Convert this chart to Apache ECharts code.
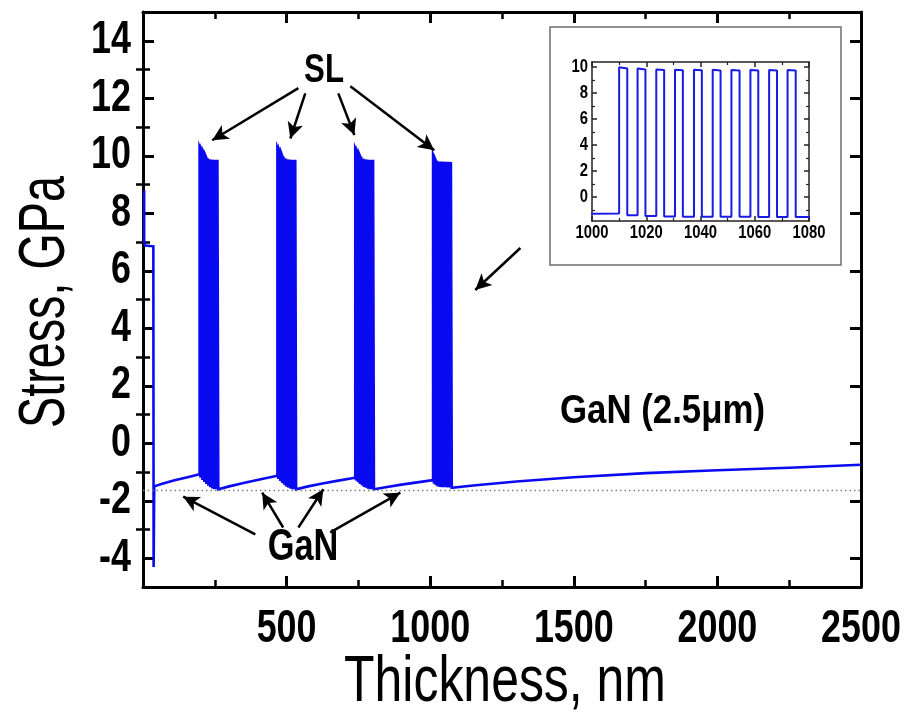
<!DOCTYPE html>
<html>
<head>
<meta charset="utf-8">
<title>Stress vs thickness</title>
<script src="https://cdn.jsdelivr.net/npm/echarts@6/dist/echarts.min.js"></script>
<style>
  html, body { margin: 0; padding: 0; background: #ffffff; }
  #chart { width: 906px; height: 715px; }
</style>
</head>
<body>
<div id="chart"></div>
<script>
// Axis ticks
const thicknessTicks = [500, 1000, 1500, 2000, 2500];
const stressTicks = [-4, -2, 0, 2, 4, 6, 8, 10, 12, 14];
const stressMinorTicks = [-3, -1, 1, 3, 5, 7, 9, 11, 13];
const insetThicknessTicks = [1000, 1020, 1040, 1060, 1080];
const insetStressTicks = [0, 2, 4, 6, 8, 10];
const insetStressMinorTicks = [-1, 1, 3, 5, 7, 9];

// Relaxed GaN reference level (GPa)
const relaxedLevel = -1.63;

// Nucleation / buffer region: [thickness nm, stress GPa]
const bufferStress = [[4, 8.8], [4, 7.05], [7, 6.88], [36, 6.85], [37, -4.3], [39, -1.5]];

// GaN layers: [thickness nm, stress GPa]
const ganLayer1 = [[39, -1.5], [70, -1.4], [110, -1.29], [155, -1.18], [197, -1.08]];
const ganLayer2 = [[266, -1.6], [300, -1.5], [350, -1.38], [410, -1.25], [468, -1.13]];
const ganLayer3 = [[537, -1.6], [575, -1.5], [625, -1.4], [680, -1.3], [739, -1.2]];
const ganLayer4 = [[808, -1.6], [850, -1.52], [900, -1.44], [955, -1.36], [1010, -1.28]];
const ganTop = [[1079, -1.55], [1150, -1.47], [1300, -1.33], [1500, -1.18], [1750, -1.04],
                [2000, -0.94], [2250, -0.85], [2500, -0.75]];

// Superlattice blocks: start (nm), barrier rise / fall inside a block (nm), block thickness (nm)
const slStart = [197, 468, 739, 1010];
const slRise = [0, 6.8, 13.7, 20.6, 27.6, 34.5, 41.4, 48.4, 55.3, 62.1];
const slFall = [3.0, 9.7, 16.6, 23.5, 30.5, 37.4, 44.4, 51.3, 58.2, 65.1];
const slThickness = 69;

// Barrier stress at start / end of each barrier (GPa)
const slBarrier1 = [[10.3, 10.22], [10.2, 10.12], [10.1, 10.02], [10.0, 9.93], [9.92, 9.88],
                    [9.88, 9.86], [9.87, 9.85], [9.86, 9.85], [9.86, 9.85], [9.86, 9.85]];
const slBarrier2 = [[10.28, 10.2], [10.18, 10.1], [10.08, 10.0], [9.98, 9.92], [9.91, 9.87],
                    [9.88, 9.86], [9.87, 9.85], [9.86, 9.85], [9.86, 9.85], [9.86, 9.85]];
const slBarrier3 = [[10.25, 10.17], [10.15, 10.08], [10.06, 9.99], [9.97, 9.91], [9.9, 9.87],
                    [9.88, 9.86], [9.87, 9.85], [9.86, 9.85], [9.86, 9.85], [9.86, 9.85]];
const slBarrier4 = [[10.0, 9.9], [9.9, 9.83], [9.83, 9.78], [9.8, 9.76], [9.8, 9.76],
                    [9.8, 9.75], [9.79, 9.75], [9.79, 9.75], [9.79, 9.75], [9.78, 9.74]];

// Well stress after each barrier (GPa)
const slWell1 = [-1.2, -1.28, -1.35, -1.42, -1.48, -1.53, -1.57, -1.6, -1.6, -1.6];
const slWell2 = [-1.24, -1.31, -1.38, -1.44, -1.5, -1.54, -1.57, -1.6, -1.6, -1.6];
const slWell3 = [-1.3, -1.36, -1.42, -1.47, -1.52, -1.55, -1.58, -1.6, -1.6, -1.6];
const slWell4 = [-1.41, -1.46, -1.5, -1.52, -1.53, -1.53, -1.53, -1.54, -1.54, -1.55];

// Builds the step profile of one superlattice block
function slBlock(start, barrier, well, levelBefore) {
  const pts = [];
  let low = levelBefore;
  for (let k = 0; k < slRise.length; k++) {
    const xr = start + slRise[k];
    const xf = start + slFall[k];
    pts.push([xr, low], [xr, barrier[k][0]], [xf, barrier[k][1]], [xf, well[k]]);
    low = well[k];
  }
  pts.push([start + slThickness, low]);
  return pts;
}

const lastOf = arr => arr[arr.length - 1][1];

const profile = [].concat(
  bufferStress,
  ganLayer1, slBlock(slStart[0], slBarrier1, slWell1, lastOf(ganLayer1)),
  ganLayer2, slBlock(slStart[1], slBarrier2, slWell2, lastOf(ganLayer2)),
  ganLayer3, slBlock(slStart[2], slBarrier3, slWell3, lastOf(ganLayer3)),
  ganLayer4, slBlock(slStart[3], slBarrier4, slWell4, lastOf(ganLayer4)),
  ganTop
);

// Annotation arrows in data coordinates: [tail, head]
const arrows = [
  [[541, 12.35], [241, 10.54]],
  [[565, 12.17], [513, 10.6]],
  [[680, 12.17], [736, 10.72]],
  [[722, 12.42], [1014, 10.19]],
  [[391, -3.17], [140, -1.86]],
  [[488, -2.93], [415, -1.72]],
  [[541, -2.93], [628, -1.6]],
  [[652, -3.1], [896, -1.72]],
  [[1314, 6.79], [1157, 5.33]]
];

const FONT = '"Liberation Sans", Arial, Helvetica, sans-serif';
const BLUE = '#0a0af2';
const INK = '#000000';
const NARROW = 0.78;   // horizontal squeeze for the condensed lettering

function frameAxis(extra) {
  return Object.assign({
    type: 'value',
    splitLine: { show: false },
    axisLine: { show: true, onZero: false, lineStyle: { color: INK, width: 3 } },
    axisTick: { show: true, inside: true, length: 11, lineStyle: { color: INK, width: 3 } },
    axisLabel: { show: false }
  }, extra);
}

function insetAxis(extra) {
  return Object.assign({
    type: 'value',
    splitLine: { show: false },
    axisLine: { show: true, onZero: false, lineStyle: { color: '#222', width: 1.5 } },
    axisTick: { show: true, inside: true, length: 5, lineStyle: { color: '#222', width: 1.5 } },
    axisLabel: { show: false }
  }, extra);
}

const chart = echarts.init(document.getElementById('chart'), null, { renderer: 'canvas' });

chart.setOption({
  animation: false,
  backgroundColor: '#ffffff',
  grid: [
    { left: 143, right: 45, top: 12, bottom: 128, containLabel: false, outerBoundsMode: 'none' },
    { left: 592, right: 97, top: 62, bottom: 494, containLabel: false, outerBoundsMode: 'none' }
  ],
  xAxis: [
    frameAxis({
      gridIndex: 0, position: 'bottom', min: 0, max: 2500, interval: 500,
      minorTick: { show: true, splitNumber: 2, length: 7, lineStyle: { color: INK, width: 2.5 } }
    }),
    frameAxis({
      gridIndex: 0, position: 'top', min: 0, max: 2500, interval: 500,
      minorTick: { show: true, splitNumber: 2, length: 7, lineStyle: { color: INK, width: 2.5 } }
    }),
    insetAxis({
      gridIndex: 1, position: 'bottom', min: 1000, max: 1080, interval: 20,
      minorTick: { show: true, splitNumber: 2, length: 3, lineStyle: { color: '#222', width: 1.2 } }
    }),
    insetAxis({
      gridIndex: 1, position: 'top', min: 1000, max: 1080, interval: 20,
      minorTick: { show: true, splitNumber: 2, length: 3, lineStyle: { color: '#222', width: 1.2 } }
    })
  ],
  yAxis: [
    frameAxis({
      gridIndex: 0, position: 'left', min: -5, max: 15,
      axisTick: { show: true, inside: true, length: 11, customValues: stressTicks, lineStyle: { color: INK, width: 3 } }
    }),
    frameAxis({
      gridIndex: 0, position: 'left', min: -5, max: 15,
      axisLine: { show: false },
      axisTick: { show: true, inside: true, length: 7, customValues: stressMinorTicks, lineStyle: { color: INK, width: 2.5 } }
    }),
    frameAxis({
      gridIndex: 0, position: 'right', min: -5, max: 15,
      axisTick: { show: true, inside: true, length: 11, customValues: stressTicks, lineStyle: { color: INK, width: 3 } }
    }),
    frameAxis({
      gridIndex: 0, position: 'right', min: -5, max: 15,
      axisLine: { show: false },
      axisTick: { show: true, inside: true, length: 7, customValues: stressMinorTicks, lineStyle: { color: INK, width: 2.5 } }
    }),
    insetAxis({
      gridIndex: 1, position: 'left', min: -1.85, max: 10.4,
      axisTick: { show: true, inside: true, length: 5, customValues: insetStressTicks, lineStyle: { color: '#222', width: 1.5 } }
    }),
    insetAxis({
      gridIndex: 1, position: 'left', min: -1.85, max: 10.4,
      axisLine: { show: false },
      axisTick: { show: true, inside: true, length: 3, customValues: insetStressMinorTicks, lineStyle: { color: '#222', width: 1.2 } }
    }),
    insetAxis({
      gridIndex: 1, position: 'right', min: -1.85, max: 10.4,
      axisTick: { show: true, inside: true, length: 5, customValues: insetStressTicks, lineStyle: { color: '#222', width: 1.5 } }
    }),
    insetAxis({
      gridIndex: 1, position: 'right', min: -1.85, max: 10.4,
      axisLine: { show: false },
      axisTick: { show: true, inside: true, length: 3, customValues: insetStressMinorTicks, lineStyle: { color: '#222', width: 1.2 } }
    })
  ],
  series: [
    {
      name: 'Stress',
      type: 'line',
      xAxisIndex: 0, yAxisIndex: 0,
      data: profile,
      showSymbol: false,
      symbol: 'none',
      silent: true,
      lineStyle: { color: BLUE, width: 2.6, join: 'miter' },
      z: 3,
      markLine: {
        silent: true,
        animation: false,
        label: { show: false },
        symbol: ['none', 'none'],
        data: [
          { yAxis: relaxedLevel, lineStyle: { color: '#808080', type: [1.5, 3], width: 1.3 } }
        ].concat(arrows.map(a => [
          { coord: a[0], symbol: 'none', lineStyle: { color: INK, type: 'solid', width: 2.5 } },
          { coord: a[1], symbol: 'arrow', symbolSize: [12, 16] }
        ]))
      }
    },
    {
      name: 'Stress (detail)',
      type: 'line',
      xAxisIndex: 2, yAxisIndex: 4,
      data: profile,
      showSymbol: false,
      symbol: 'none',
      silent: true,
      clip: true,
      lineStyle: { color: '#1a1ae6', width: 2 },
      z: 5
    }
  ]
});

// Text helpers: condensed bold lettering placed through the axis scales
function label(text, x, y, size, align, weight, extra) {
  return Object.assign({
    type: 'text', z: 20, silent: true, x: x, y: y, scaleX: NARROW,
    style: {
      text: text, fill: INK, align: align, verticalAlign: 'middle',
      font: (weight || 'bold') + ' ' + size + 'px ' + FONT
    }
  }, extra || {});
}

const px = (finder, v) => chart.convertToPixel(finder, v);
const mainGrid = { xAxisIndex: 0, yAxisIndex: 0 };
const insetGrid = { xAxisIndex: 2, yAxisIndex: 4 };
const mainBottom = px(mainGrid, [0, -5])[1];
const mainLeft = px(mainGrid, [0, -5])[0];
const insetBottom = px(insetGrid, [1000, -1.85])[1];
const insetLeft = px(insetGrid, [1000, -1.85])[0];

const texts = [];
thicknessTicks.forEach(v => {
  texts.push(label(String(v), px(mainGrid, [v, 0])[0], mainBottom + 42, 46, 'center'));
});
stressTicks.forEach(v => {
  texts.push(label(String(v), mainLeft - 12, px(mainGrid, [0, v])[1], 46, 'right'));
});
insetThicknessTicks.forEach(v => {
  texts.push(label(String(v), px(insetGrid, [v, 0])[0], insetBottom + 12, 19, 'center'));
});
insetStressTicks.forEach(v => {
  texts.push(label(String(v), insetLeft - 4, px(insetGrid, [1000, v])[1], 19, 'right'));
});

chart.setOption({
  graphic: [
    {
      type: 'rect', z: -1, silent: true,
      shape: { x: 550, y: 27, width: 291, height: 238 },
      style: { fill: '#ffffff', stroke: '#6e6e6e', lineWidth: 1.5 }
    },
    label('SL', 324, 71, 40, 'center'),
    label('GaN', 303, 548, 44, 'center'),
    label('GaN (2.5\u03bcm)', 560, 412, 40, 'left', 'bold', { scaleX: 0.87 }),
    label('Thickness, nm', 505, 683, 64, 'center', 'normal'),
    label('Stress, GPa', 46, 302, 64, 'center', 'normal', { rotation: Math.PI / 2, scaleX: 0.73 })
  ].concat(texts)
});
</script>
</body>
</html>
